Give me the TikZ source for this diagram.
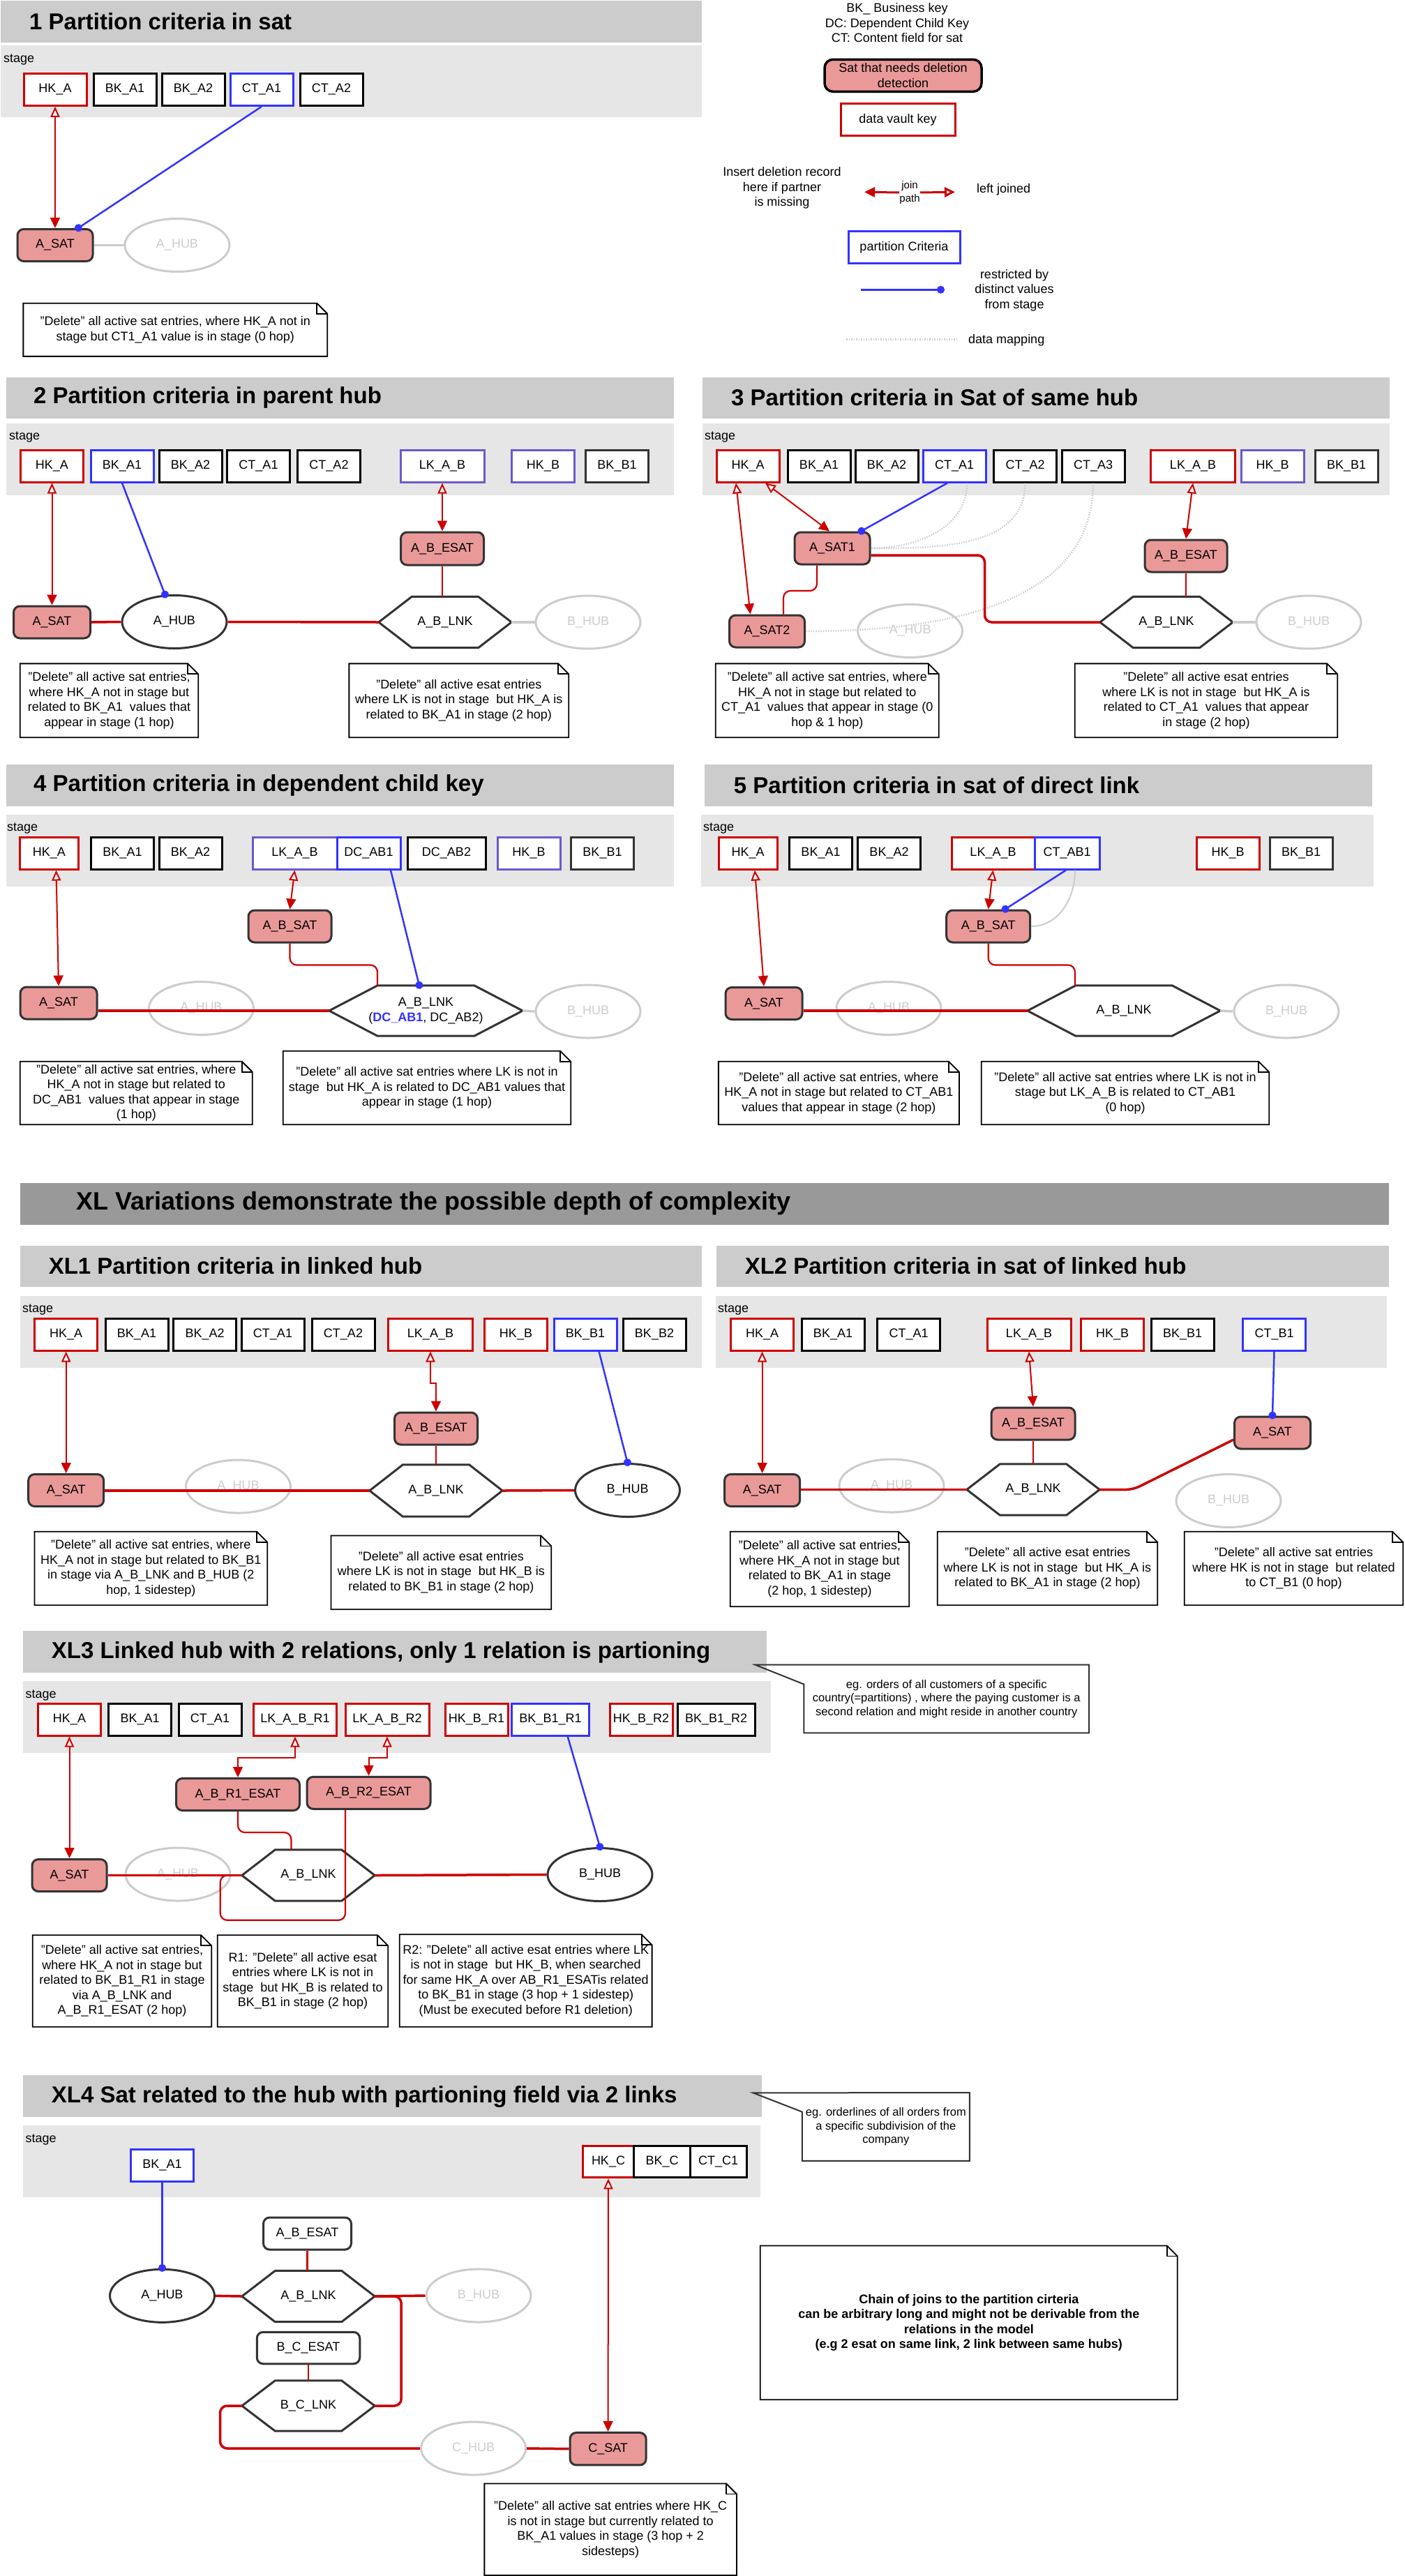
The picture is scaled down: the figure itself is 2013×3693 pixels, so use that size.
\documentclass[tikz,border=0pt]{standalone}
\usepackage{fontspec}
\setmainfont{Liberation Sans}
\usetikzlibrary{arrows.meta,calc,shapes.geometric}

\definecolor{vred}{HTML}{CC0000}
\definecolor{vblue}{HTML}{3333FF}
\definecolor{vpurple}{HTML}{6A5ACD}
\definecolor{satred}{HTML}{EA9999}
\definecolor{ghostc}{HTML}{CCCCCC}
\definecolor{dgray}{HTML}{333333}
\definecolor{ttlgray}{HTML}{CCCCCC}
\definecolor{stggray}{HTML}{E6E6E6}
\definecolor{xlgray}{HTML}{999999}

\newcommand{\lblfont}{\fontsize{18}{21.5}\selectfont}
\newcommand{\smlfont}{\fontsize{15}{19}\selectfont}
\newcommand{\callfont}{\fontsize{16.5}{19.5}\selectfont}
\newcommand{\ttlfont}{\fontsize{33}{38}\selectfont\bfseries}
\newcommand{\xlfont}{\fontsize{36}{40}\selectfont\bfseries}
\newcommand{\notefold}[1]{\draw[notefr] (#1.north west) -- ([xshift=-15pt]#1.north east) -- ([yshift=-15pt]#1.north east) -- (#1.south east) -- (#1.south west) -- cycle;
  \draw[notefr] ([xshift=-15pt]#1.north east) -- ([xshift=-15pt,yshift=-15pt]#1.north east) -- ([yshift=-15pt]#1.north east);}
\newcommand{\hexlink}[1]{\draw[hexfr] (#1.west) -- ($(#1.north west)!.25!(#1.north east)$) -- ($(#1.north west)!.75!(#1.north east)$) -- (#1.east) -- ($(#1.south west)!.75!(#1.south east)$) -- ($(#1.south west)!.25!(#1.south east)$) -- cycle;}

\begin{document}
\begin{tikzpicture}[x=1pt, y=-1pt,
	vkey/.style={draw=vred, line width=3pt, fill=white, minimum width=90pt, minimum height=46pt, inner sep=0pt, font=\lblfont},
	bkey/.style={vkey, draw=black}, pkey/.style={vkey, draw=vblue}, rkey/.style={vkey, draw=vpurple}, gkey/.style={vkey, draw=dgray},
	satn/.style={rounded corners=9pt, draw=dgray, fill=satred, line width=3pt, minimum width=108pt, minimum height=46pt, inner sep=0pt, font=\lblfont, align=center},
	esatw/.style={satn, fill=white},
	hubn/.style={ellipse, draw=dgray, line width=3pt, minimum width=150pt, minimum height=76pt, inner sep=0pt, font=\lblfont},
	ghostn/.style={hubn, draw=ghostc, text=ghostc},
	lnkn/.style={minimum width=190pt, minimum height=73pt, inner sep=0pt, font=\lblfont, align=center},
	hexfr/.style={draw=dgray, line width=3pt},
	notn/.style={inner sep=0pt, font=\lblfont, align=center},
	notefr/.style={draw=black, line width=1.8pt, line join=miter},
	callfr/.style={draw=dgray, line width=2pt},
	jarr/.style={draw=vred, line width=2pt, {Triangle[fill=white, length=15pt, width=13pt]}-{Triangle[length=15pt, width=14pt]}},
	jarrf/.style={draw=vred, line width=3pt, -{Triangle[length=15pt, width=14pt]}},
	jarro/.style={draw=vred, line width=3pt, -{Triangle[fill=white, length=15pt, width=14pt]}},
	restr/.style={draw=vblue, line width=2.5pt, -{Circle[length=11pt]}, shorten >=-5pt},
	mapln/.style={draw=ghostc, line width=2.5pt, dash pattern=on 1.5pt off 2pt},
	relthick/.style={draw=vred, line width=3.5pt, rounded corners=10pt},
	relthin/.style={draw=vred, line width=2.2pt, rounded corners=10pt},
	ghostln/.style={draw=ghostc, line width=3.5pt},
	ttltxt/.style={anchor=west, font=\ttlfont, inner sep=0pt},
	stgtxt/.style={anchor=west, font=\lblfont, inner sep=0pt},
	txt/.style={font=\lblfont, align=center, inner sep=0pt}]
	\useasboundingbox (0,0) rectangle (2013,3693);

	\fill[ttlgray] (1,1) rectangle (1006,60.7); \fill[stggray] (1,65.3) rectangle (1006,168);
	\node[ttltxt] (t1) at (42,31) {1 Partition criteria in sat};
	\node[stgtxt] (g1) at (5,86) {stage};
	\node[vkey] (s1hka) at (79,128.3) {HK\_A};
	\node[bkey] (s1bka1) at (179,128.3) {BK\_A1};
	\node[bkey] (s1bka2) at (277,128.3) {BK\_A2};
	\node[pkey] (s1cta1) at (375,128.3) {CT\_A1};
	\node[bkey] (s1cta2) at (475,128.3) {CT\_A2};
	\node[satn] (s1sat) at (79,351.5) {A\_SAT};
	\node[ghostn] (s1hub) at (254,351.5) {A\_HUB};
	\node[notn, minimum width=435.5pt, minimum height=75.7pt] (s1n) at (251.3,472.8) {"Delete" all active sat entries, where HK\_A not in\\stage but CT1\_A1 value is in stage (0 hop)};
	\notefold{s1n}
	\draw[ghostln] (s1sat.east) -- (s1hub.west);
	\draw[jarr] (s1hka.south) -- (s1sat.north); \draw[restr] (s1cta1.south) -- ([xshift=33pt]s1sat.north);

	\node[txt] (lgkeys) at (1286,33) {BK\_ Business key\\DC: Dependent Child Key\\CT: Content field for sat};
	\node[satn, draw=black, line width=3.5pt, rounded corners=12pt, minimum width=225pt] (lgsat) at (1294.5,108.3) {Sat that needs deletion\\detection};
	\node[vkey, minimum width=164pt] (lgdvk) at (1287,171.7) {data vault key};
	\node[txt] (lgins) at (1121,269.7) {Insert deletion record\\here if partner\\is missing};
	\node[txt, font=\smlfont] (lgjp) at (1304,276) {join\\path};
	\coordinate (lgl) at (1239,275.3); \coordinate (lgr) at (1369,275.3);
	\node[txt, anchor=west] (lglj) at (1400,272.3) {left joined};
	\node[pkey, minimum width=160pt] (lgpart) at (1296,354.7) {partition Criteria};
	\coordinate (lgb1) at (1234,415.3); \coordinate (lgb2) at (1349,415.3);
	\node[txt] (lgrs) at (1454,416) {restricted by\\distinct values\\from stage};
	\coordinate (lgm1) at (1213,486.7); \coordinate (lgm2) at (1371,486.7);
	\node[txt, anchor=west] (lgmap) at (1388,488) {data mapping};
	\draw[jarrf] (lgjp.west) -- (lgl); \draw[jarro] (lgjp.east) -- (lgr);
	\draw[restr] (lgb1) -- (lgb2); \draw[mapln] (lgm1) -- (lgm2);

	\fill[ttlgray] (9,540.5) rectangle (966,600); \fill[stggray] (9,607) rectangle (966,710);
	\node[ttltxt] (t2) at (48,570) {2 Partition criteria in parent hub};
	\node[stgtxt] (g2) at (13,627) {stage};
	\node[vkey] (s2hka) at (74.5,668) {HK\_A};
	\node[pkey] (s2bka1) at (175,668) {BK\_A1};
	\node[bkey] (s2bka2) at (273,668) {BK\_A2};
	\node[bkey] (s2cta1) at (370.5,668) {CT\_A1};
	\node[bkey] (s2cta2) at (471.5,668) {CT\_A2};
	\node[rkey, minimum width=120pt] (s2lkab) at (634,668) {LK\_A\_B};
	\node[rkey] (s2hkb) at (778.5,668) {HK\_B};
	\node[gkey] (s2bkb1) at (884.5,668) {BK\_B1};
	\node[satn, minimum width=119pt, minimum height=47pt] (s2esat) at (634,786.5) {A\_B\_ESAT};
	\node[satn, minimum width=110pt] (s2sat) at (74.5,892) {A\_SAT};
	\node[hubn] (s2hub) at (250,891.5) {A\_HUB};
	\node[lnkn] (s2lnk) at (638,892) {A\_B\_LNK};
	\node[ghostn] (s2bhub) at (843,892) {B\_HUB};
	\node[notn, minimum width=255pt, minimum height=105.5pt] (s2n1) at (156.5,1004.3) {"Delete" all active sat entries,\\where HK\_A not in stage but\\related to BK\_A1 \ values that\\appear in stage (1 hop)};
	\node[notn, minimum width=314.5pt, minimum height=105.5pt] (s2n2) at (657.8,1004.3) {"Delete" all active esat entries\\where LK is not in stage \ but HK\_A is\\related to BK\_A1 in stage (2 hop)};
	\hexlink{s2lnk} \notefold{s2n1} \notefold{s2n2}
	\draw[jarr] (s2hka.south) -- (s2sat.north); \draw[jarr] (s2lkab.south) -- (s2esat.north);
	\draw[restr] (s2bka1.south) -- (s2hub.109);
	\draw[relthick] (s2sat.east) -- (s2hub.west); \draw[relthick] (s2hub.east) -- (s2lnk.west);
	\draw[relthin] (s2esat.south) -- (s2esat.south |- s2lnk.north);
	\draw[ghostln] (s2lnk.east) -- (s2bhub.west);

	\fill[ttlgray] (1006.5,540.5) rectangle (1991.6,600); \fill[stggray] (1006.5,607) rectangle (1991.6,710);
	\node[ttltxt] (t3) at (1048,570) {3 Partition criteria in Sat of same hub};
	\node[stgtxt] (g3) at (1010,627) {stage};
	\node[vkey] (s3hka) at (1072,668) {HK\_A};
	\node[bkey] (s3bka1) at (1174,668) {BK\_A1};
	\node[bkey] (s3bka2) at (1271,668) {BK\_A2};
	\node[pkey] (s3cta1) at (1368,668) {CT\_A1};
	\node[bkey] (s3cta2) at (1469.5,668) {CT\_A2};
	\node[bkey] (s3cta3) at (1567,668) {CT\_A3};
	\node[vkey, minimum width=121pt] (s3lkab) at (1710,668) {LK\_A\_B};
	\node[rkey] (s3hkb) at (1824,668) {HK\_B};
	\node[gkey] (s3bkb1) at (1930,668) {BK\_B1};
	\node[satn] (s3sat1) at (1193,786) {A\_SAT1};
	\node[satn] (s3sat2) at (1099.5,905) {A\_SAT2};
	\node[ghostn] (s3hub) at (1304.5,904.5) {A\_HUB};
	\node[satn, minimum width=118pt] (s3esat) at (1700,797) {A\_B\_ESAT};
	\node[lnkn] (s3lnk) at (1672,892) {A\_B\_LNK};
	\node[ghostn] (s3bhub) at (1876,892) {B\_HUB};
	\node[notn, minimum width=319.6pt, minimum height=105.5pt] (s3n1) at (1185.8,1004.3) {"Delete" all active sat entries, where\\HK\_A not in stage but related to\\CT\_A1 \ values that appear in stage (0\\hop \& 1 hop)};
	\node[notn, minimum width=376pt, minimum height=105.5pt] (s3n2) at (1729,1004.3) {"Delete" all active esat entries\\where LK is not in stage \ but HK\_A is\\related to CT\_A1 \ values that appear\\in stage (2 hop)};
	\hexlink{s3lnk} \notefold{s3n1} \notefold{s3n2}
	\draw[mapln] ([xshift=18pt]s3cta1.south) to[out=-90,in=0] (s3sat1.east);
	\draw[mapln] (s3cta2.south) to[out=-90,in=0] (s3sat1.east);
	\draw[mapln] (s3cta3.south) to[out=-90,in=0] (s3sat2.east);
	\draw[jarr] ([xshift=-17pt]s3hka.south) -- ([xshift=-24pt]s3sat2.north); \draw[jarr] ([xshift=25pt]s3hka.south) -- ([xshift=-4pt]s3sat1.north);
	\draw[jarr] (s3lkab.south) -- (s3esat.north);
	\draw[restr] ([xshift=-10pt]s3cta1.south) -- ([xshift=41.5pt]s3sat1.north);
	\draw[relthick] ([yshift=-10pt]s3sat1.east) -- ++(163,0) |- (s3lnk.west);
	\draw[relthin] ([xshift=-22pt]s3sat1.south) -- ++(0,36.5) -| ([xshift=23.5pt]s3sat2.north);
	\draw[relthin] (s3esat.south) -- (s3esat.south |- s3lnk.north);
	\draw[ghostln] (s3lnk.east) -- (s3bhub.west);

	\fill[ttlgray] (9,1096) rectangle (966,1155.7); \fill[stggray] (9,1168) rectangle (966,1271);
	\node[ttltxt] (t4) at (48,1126) {4 Partition criteria in dependent child key};
	\node[stgtxt] (g4) at (10,1188) {stage};
	\node[vkey, minimum width=84pt] (s4hka) at (70.5,1223) {HK\_A};
	\node[bkey] (s4bka1) at (175.5,1223) {BK\_A1};
	\node[bkey] (s4bka2) at (273,1223) {BK\_A2};
	\node[rkey, minimum width=121pt] (s4lkab) at (422.5,1223) {LK\_A\_B};
	\node[pkey, minimum width=91pt] (s4dc1) at (528.5,1223) {DC\_AB1};
	\node[bkey, minimum width=112pt] (s4dc2) at (640,1223) {DC\_AB2};
	\node[rkey] (s4hkb) at (758,1223) {HK\_B};
	\node[gkey] (s4bkb1) at (863.5,1223) {BK\_B1};
	\node[satn, minimum width=119pt] (s4absat) at (415.5,1328) {A\_B\_SAT};
	\node[satn, minimum width=110pt] (s4sat) at (84,1438) {A\_SAT};
	\node[ghostn] (s4hub) at (288.5,1445.5) {A\_HUB};
	\node[lnkn, minimum width=277pt, minimum height=72pt] (s4lnk) at (610.5,1449) {A\_B\_LNK\\(\textcolor{vblue}{\textbf{DC\_AB1}}, DC\_AB2)};
	\node[ghostn] (s4bhub) at (843,1450) {B\_HUB};
	\node[notn, minimum width=332.6pt, minimum height=90pt] (s4n1) at (195.3,1567) {"Delete" all active sat entries, where\\HK\_A not in stage but related to\\DC\_AB1 \ values that appear in stage\\(1 hop)};
	\node[notn, minimum width=412pt, minimum height=105pt] (s4n2) at (612,1559.5) {"Delete" all active sat entries where LK is not in\\stage \ but HK\_A is related to DC\_AB1 values that\\appear in stage (1 hop)};
	\hexlink{s4lnk} \notefold{s4n1} \notefold{s4n2}
	\draw[jarr] ([xshift=10pt]s4hka.south) -- (s4sat.north); \draw[jarr] (s4lkab.south) -- (s4absat.north);
	\draw[restr] ([xshift=31.5pt]s4dc1.south) -- ([xshift=-9.5pt]s4lnk.north);
	\draw[relthick] (s4sat.east |- s4lnk.west) -- (s4lnk.west);
	\draw[relthin] (s4absat.south) -- ++(0,31) -| ([xshift=-69.5pt]s4lnk.north);
	\draw[ghostln] (s4lnk.east) -- (s4bhub.west);

	\fill[ttlgray] (1009.7,1096) rectangle (1967,1155.7); \fill[stggray] (1005,1168) rectangle (1969,1271);
	\node[ttltxt] (t5) at (1051.7,1126) {5 Partition criteria in sat of direct link};
	\node[stgtxt] (g5) at (1008,1188) {stage};
	\node[vkey, minimum width=84pt] (s5hka) at (1072,1223) {HK\_A};
	\node[bkey] (s5bka1) at (1176.5,1223) {BK\_A1};
	\node[bkey] (s5bka2) at (1274.5,1223) {BK\_A2};
	\node[vkey, minimum width=119pt] (s5lkab) at (1423.5,1223) {LK\_A\_B};
	\node[pkey, minimum width=93pt] (s5ctab1) at (1529.5,1223) {CT\_AB1};
	\node[vkey] (s5hkb) at (1760,1223) {HK\_B};
	\node[gkey] (s5bkb1) at (1865,1223) {BK\_B1};
	\node[satn, minimum width=120pt] (s5absat) at (1416.7,1328) {A\_B\_SAT};
	\node[satn, minimum width=110pt] (s5sat) at (1095,1438.5) {A\_SAT};
	\node[ghostn] (s5hub) at (1274,1445.5) {A\_HUB};
	\node[lnkn, minimum width=276pt, minimum height=72pt] (s5lnk) at (1611,1449) {A\_B\_LNK};
	\node[ghostn] (s5bhub) at (1844,1450) {B\_HUB};
	\node[notn, minimum width=344.7pt, minimum height=90pt] (s5n1) at (1202.4,1567) {"Delete" all active sat entries, where\\HK\_A not in stage but related to CT\_AB1\\values that appear in stage (2 hop)};
	\node[notn, minimum width=412pt, minimum height=90pt] (s5n2) at (1613,1567) {"Delete" all active sat entries where LK is not in\\stage but LK\_A\_B is related to CT\_AB1\\(0 hop)};
	\hexlink{s5lnk} \notefold{s5n1} \notefold{s5n2}
	\draw[ghostln, line width=2pt] ([xshift=11.5pt]s5ctab1.south) to[out=-90,in=0] (s5absat.east);
	\draw[jarr] ([xshift=10pt]s5hka.south) -- (s5sat.north); \draw[jarr] (s5lkab.south) -- (s5absat.north);
	\draw[restr] ([xshift=-1.5pt]s5ctab1.south) -- ([xshift=24pt]s5absat.north);
	\draw[relthick] (s5sat.east |- s5lnk.west) -- (s5lnk.west);
	\draw[relthin] (s5absat.south) -- ++(0,31) -| ([xshift=-70pt]s5lnk.north);
	\draw[ghostln] (s5lnk.east) -- (s5bhub.west);

	\fill[xlgray] (29,1696) rectangle (1991,1755.5);
	\node[ttltxt, font=\xlfont] (txl) at (109.5,1725) {XL Variations demonstrate the possible depth of complexity};

	\fill[ttlgray] (29,1786) rectangle (1006,1845); \fill[stggray] (29,1858) rectangle (1006,1961);
	\node[ttltxt] (tx1) at (69.6,1815) {XL1 Partition criteria in linked hub};
	\node[stgtxt] (gx1) at (32,1878) {stage};
	\node[vkey] (x1hka) at (94.7,1913) {HK\_A};
	\node[bkey] (x1bka1) at (196,1913) {BK\_A1};
	\node[bkey] (x1bka2) at (293.7,1913) {BK\_A2};
	\node[bkey] (x1cta1) at (391,1913) {CT\_A1};
	\node[bkey] (x1cta2) at (492,1913) {CT\_A2};
	\node[vkey, minimum width=121pt] (x1lkab) at (617,1913) {LK\_A\_B};
	\node[vkey] (x1hkb) at (739.5,1913) {HK\_B};
	\node[pkey] (x1bkb1) at (839,1913) {BK\_B1};
	\node[bkey] (x1bkb2) at (938,1913) {BK\_B2};
	\node[satn, minimum width=119pt] (x1esat) at (625,2048) {A\_B\_ESAT};
	\node[satn] (x1sat) at (94.7,2136.5) {A\_SAT};
	\node[ghostn] (x1hub) at (341.5,2131) {A\_HUB};
	\node[lnkn, minimum height=74pt] (x1lnk) at (625,2137) {A\_B\_LNK};
	\node[hubn] (x1bhub) at (899.5,2136.5) {B\_HUB};
	\node[notn, minimum width=333.4pt, minimum height=105pt] (x1n1) at (216.3,2248.5) {"Delete" all active sat entries, where\\HK\_A not in stage but related to BK\_B1\\in stage via A\_B\_LNK and B\_HUB (2\\hop, 1 sidestep)};
	\node[notn, minimum width=315.3pt, minimum height=105.4pt] (x1n2) at (632.4,2254.3) {"Delete" all active esat entries\\where LK is not in stage \ but HK\_B is\\related to BK\_B1 in stage (2 hop)};
	\hexlink{x1lnk} \notefold{x1n1} \notefold{x1n2}
	\draw[jarr] (x1hka.south) -- (x1sat.north); \draw[jarr] (x1lkab.south) -- ++(0,45) -| (x1esat.north);
	\draw[restr] ([xshift=19.6pt]x1bkb1.south) -- (x1bhub.north);
	\draw[relthick] (x1sat.east |- x1lnk.west) -- (x1lnk.west); \draw[relthick] (x1lnk.east) -- (x1bhub.west);
	\draw[relthin] (x1esat.south) -- (x1esat.south |- x1lnk.north);

	\fill[ttlgray] (1027,1786) rectangle (1991,1845); \fill[stggray] (1026,1858) rectangle (1987.6,1961);
	\node[ttltxt] (tx2) at (1067.6,1815) {XL2 Partition criteria in sat of linked hub};
	\node[stgtxt] (gx2) at (1029,1878) {stage};
	\node[vkey] (x2hka) at (1092.6,1913) {HK\_A};
	\node[bkey] (x2bka1) at (1194,1913) {BK\_A1};
	\node[bkey] (x2cta1) at (1302.7,1913) {CT\_A1};
	\node[vkey, minimum width=120pt] (x2lkab) at (1475,1913) {LK\_A\_B};
	\node[vkey] (x2hkb) at (1594.5,1913) {HK\_B};
	\node[bkey] (x2bkb1) at (1695,1913) {BK\_B1};
	\node[pkey] (x2ctb1) at (1826.5,1913) {CT\_B1};
	\node[satn, minimum width=120pt] (x2esat) at (1481,2041) {A\_B\_ESAT};
	\node[satn, minimum width=109pt] (x2sat2) at (1824,2054) {A\_SAT};
	\node[satn] (x2sat) at (1092.6,2136.5) {A\_SAT};
	\node[ghostn] (x2hub) at (1278,2130) {A\_HUB};
	\node[lnkn] (x2lnk) at (1481,2135.5) {A\_B\_LNK};
	\node[ghostn] (x2bhub) at (1761,2151.5) {B\_HUB};
	\node[notn, minimum width=256pt, minimum height=107pt] (x2n1) at (1175,2249.5) {"Delete" all active sat entries,\\where HK\_A not in stage but\\related to BK\_A1 in stage\\(2 hop, 1 sidestep)};
	\node[notn, minimum width=315pt, minimum height=105pt] (x2n2) at (1501.5,2248.5) {"Delete" all active esat entries\\where LK is not in stage \ but HK\_A is\\related to BK\_A1 in stage (2 hop)};
	\node[notn, minimum width=313pt, minimum height=105pt] (x2n3) at (1854.5,2248.5) {"Delete" all active sat entries\\where HK is not in stage \ but related\\to CT\_B1 (0 hop)};
	\hexlink{x2lnk} \notefold{x2n1} \notefold{x2n2} \notefold{x2n3}
	\draw[jarr] (x2hka.south) -- (x2sat.north); \draw[jarr] (x2lkab.south) -- (x2esat.north);
	\draw[restr] (x2ctb1.south) -- (x2sat2.north);
	\draw[relthick] (x2sat.east |- x2lnk.west) -- (x2lnk.west); \draw[relthick] (x2lnk.east) -- ++(48,0) -- ([yshift=-10pt]x2sat2.west);
	\draw[relthin] (x2esat.south) -- (x2esat.south |- x2lnk.north);

	\fill[ttlgray] (33,2337.7) rectangle (1098.6,2397.5); \fill[stggray] (33,2410) rectangle (1104.7,2512.7);
	\node[ttltxt] (tx3) at (73.7,2369) {XL3 Linked hub with 2 relations, only 1 relation is partioning};
	\node[stgtxt] (gx3) at (36.5,2431) {stage};
	\node[vkey] (x3hka) at (99.5,2465) {HK\_A};
	\node[bkey] (x3bka1) at (200.6,2465) {BK\_A1};
	\node[bkey] (x3cta1) at (301,2465) {CT\_A1};
	\node[vkey, minimum width=119pt] (x3lk1) at (423,2465) {LK\_A\_B\_R1};
	\node[vkey, minimum width=120pt] (x3lk2) at (555,2465) {LK\_A\_B\_R2};
	\node[vkey] (x3hkb1) at (683,2465) {HK\_B\_R1};
	\node[pkey, minimum width=111pt] (x3bkb1) at (789,2465) {BK\_B1\_R1};
	\node[vkey] (x3hkb2) at (919,2465) {HK\_B\_R2};
	\node[bkey, minimum width=111pt] (x3bkb2) at (1026.7,2465) {BK\_B1\_R2};
	\node[satn, minimum width=177pt] (x3esat1) at (341,2572.5) {A\_B\_R1\_ESAT};
	\node[satn, minimum width=177pt] (x3esat2) at (528.5,2570.3) {A\_B\_R2\_ESAT};
	\node[satn, minimum width=107pt] (x3sat) at (99.5,2688.5) {A\_SAT};
	\node[ghostn] (x3hub) at (255,2687) {A\_HUB};
	\node[lnkn] (x3lnk) at (442,2688.5) {A\_B\_LNK};
	\node[hubn] (x3bhub) at (860,2687.5) {B\_HUB};
	\node[notn, minimum width=256pt, minimum height=131pt] (x3n1) at (175,2840) {"Delete" all active sat entries,\\where HK\_A not in stage but\\related to BK\_B1\_R1 in stage\\via A\_B\_LNK and\\A\_B\_R1\_ESAT (2 hop)};
	\node[notn, minimum width=244pt, minimum height=131pt] (x3n2) at (434,2840) {R1: "Delete" all active esat\\entries where LK is not in\\stage \ but HK\_B is related to\\BK\_B1 in stage (2 hop)};
	\node[notn, minimum width=361.4pt, minimum height=132pt] (x3n3) at (753.7,2839.5) {R2: "Delete" all active esat entries where LK\\is not in stage \ but HK\_B, when searched\\for same HK\_A over AB\_R1\_ESATis related\\to BK\_B1 in stage (3 hop + 1 sidestep)\\(Must be executed before R1 deletion)};
	\node[txt, font=\callfont, minimum width=408.4pt, minimum height=97.3pt] (x3call) at (1356.8,2435.4) {eg. orders of all customers of a specific\\country(=partitions) , where the paying customer is a\\second relation and might reside in another country};
	\coordinate (x3tail) at (1082.5,2386.7);
	\hexlink{x3lnk} \notefold{x3n1} \notefold{x3n2} \notefold{x3n3}
	\draw[callfr] (x3tail) -- (x3call.north east) -- (x3call.south east) -- (x3call.south west) -- ([yshift=-28pt]x3call.north west) -- cycle;
	\draw[jarr] (x3hka.south) -- (x3sat.north);
	\draw[jarr] (x3lk1.south) -- ++(0,30) -| (x3esat1.north); \draw[jarr] (x3lk2.south) -- ++(0,30) -| (x3esat2.north);
	\draw[restr] ([xshift=24.7pt]x3bkb1.south) -- (x3bhub.north);
	\draw[relthick] (x3sat.east) -- (x3lnk.west); \draw[relthick] (x3lnk.east) -- (x3bhub.west);
	\draw[relthin] (x3esat1.south) -- ++(0,30) -| ([xshift=-24.6pt]x3lnk.north);
	\draw[relthin] ([xshift=-33.5pt]x3esat2.south) -- ++(0,158) -- ++(-179.3,0) |- (x3lnk.west);

	\fill[ttlgray] (33,2975) rectangle (1092,3034.6); \fill[stggray] (33,3047) rectangle (1089.5,3150);
	\node[ttltxt] (tx4) at (73.7,3006) {XL4 Sat related to the hub with partioning field via 2 links};
	\node[stgtxt] (gx4) at (36.5,3068) {stage};
	\node[pkey, minimum width=90.5pt] (x4bka1) at (232.5,3104) {BK\_A1};
	\node[vkey, minimum width=73pt, minimum height=45.5pt] (x4hkc) at (872,3099) {HK\_C};
	\node[bkey, minimum width=80.5pt, minimum height=45.5pt] (x4bkc) at (949,3099) {BK\_C};
	\node[bkey, minimum width=81pt, minimum height=45.5pt] (x4ctc1) at (1029.6,3099) {CT\_C1};
	\node[esatw, minimum width=126pt] (x4abesat) at (440.5,3202) {A\_B\_ESAT};
	\node[hubn] (x4ahub) at (232.5,3291.3) {A\_HUB};
	\node[lnkn] (x4ablnk) at (442,3292) {A\_B\_LNK};
	\node[ghostn] (x4bhub) at (686,3291) {B\_HUB};
	\node[esatw, minimum width=147.5pt, minimum height=45.5pt] (x4bcesat) at (442,3366) {B\_C\_ESAT};
	\node[lnkn, minimum height=72pt] (x4bclnk) at (442,3449) {B\_C\_LNK};
	\node[ghostn] (x4chub) at (678.6,3510) {C\_HUB};
	\node[satn, minimum width=109pt, minimum height=46.5pt] (x4csat) at (871.6,3510.7) {C\_SAT};
	\node[notn, minimum width=361.3pt, minimum height=131pt] (x4n) at (875.2,3626.2) {"Delete" all active sat entries where HK\_C\\is not in stage but currently related to\\BK\_A1 values in stage (3 hop + 2\\sidesteps)};
	\node[txt, font=\callfont, minimum width=239.7pt, minimum height=97.4pt] (x4call) at (1269.9,3049) {eg. orderlines of all orders from\\a specific subdivision of the\\company};
	\coordinate (x4tail) at (1079.5,3000.3);
	\node[notn, font=\lblfont\bfseries, minimum width=597.6pt, minimum height=220.4pt] (x4big) at (1388.8,3329.8) {Chain of joins to the partition cirteria\\can be arbitrary long and might not be derivable from the\\relations in the model\\(e.g 2 esat on same link, 2 link between same hubs)};
	\hexlink{x4ablnk} \hexlink{x4bclnk} \notefold{x4n} \notefold{x4big}
	\draw[callfr] (x4tail) -- (x4call.north east) -- (x4call.south east) -- (x4call.south west) -- ([yshift=-27.5pt]x4call.north west) -- cycle;
	\draw[jarr] (x4hkc.south) -- (x4csat.north);
	\draw[restr] (x4bka1.south) -- (x4ahub.north);
	\draw[relthin] (x4abesat.south) -- (x4abesat.south |- x4ablnk.north); \draw[relthin] (x4bcesat.south) -- (x4bcesat.south |- x4bclnk.north);
	\draw[relthick] (x4ahub.east) -- (x4ablnk.west); \draw[relthick] (x4ablnk.east) -- (x4bhub.west);
	\draw[relthick] (x4ablnk.east) -- ++(38,0) |- (x4bclnk.east);
	\draw[relthick] (x4bclnk.west) -- ++(-31.3,0) |- (x4chub.west); \draw[relthick] (x4chub.east) -- (x4csat.west);
\end{tikzpicture}
\end{document}
